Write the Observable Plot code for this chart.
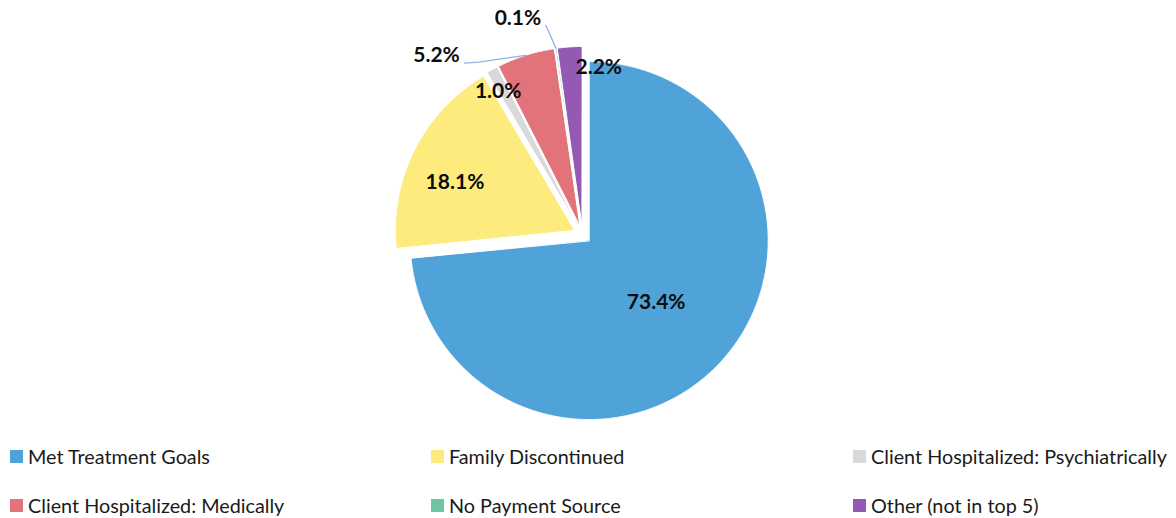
<!DOCTYPE html>
<html><head><meta charset="utf-8">
<script src="https://cdn.jsdelivr.net/npm/d3@7"></script>
<script src="https://cdn.jsdelivr.net/npm/@observablehq/plot@0.6"></script>
<style>
body{margin:0;background:#fff;font-family:Lato,"Open Sans",sans-serif;}
#wrap{position:relative;width:1176px;height:518px;overflow:hidden}
#legend{position:absolute;left:0;top:440px;width:1176px;height:78px;}
.item{position:absolute;display:flex;align-items:center;font-size:19.8px;color:#1a1a1a;white-space:nowrap;line-height:22px}
.sw{width:13px;height:13px;margin-right:5px;flex:none}
</style></head><body><div id="wrap"><div id="chart"></div><div id="legend"></div></div>
<script>
// ---- data ----
const categories = ["Met Treatment Goals","Family Discontinued","Client Hospitalized: Psychiatrically","Client Hospitalized: Medically","No Payment Source","Other (not in top 5)"];
const values = [73.4, 18.1, 1.0, 5.2, 0.1, 2.2];
const valueLabels = ["73.4%","18.1%","1.0%","5.2%","0.1%","2.2%"];
const colors = ["#4FA3D8","#FDEB7E","#D9D9D9","#E2737A","#6CC6A4","#9459B3"];

// ---- layout (not data) ----
const W = 1176, H = 440, CX = 582, CY = 234, R = 179, EXPLODE = 9;
// label placement: polar offset from each slice's apex (angle in degrees clockwise from top, radius fraction)
const labelAngle = [132.8, 292, 329.5, 320, 343, 6.1];
const labelRadius = [0.51, 0.72, 0.88, 1.245, 1.21, 0.89];
const hasLeader = [false, false, false, true, true, false];
const legendCols = [10, 431, 853];
const legendRows = [16, 65];

// ---- geometry ----
const total = d3.sum(values);
let acc = 0;
const slices = values.map((v, i) => {
  const a0 = acc / total * 2 * Math.PI; acc += v;
  const a1 = acc / total * 2 * Math.PI;
  const mid = (a0 + a1) / 2;
  return {i, cat: categories[i], a0, a1, mid, ax: EXPLODE * Math.sin(mid), ay: -EXPLODE * Math.cos(mid)};
});
const polyPts = [];
for (const s of slices) {
  polyPts.push({cat: s.cat, x: s.ax, y: s.ay});
  const n = Math.max(2, Math.ceil((s.a1 - s.a0) / 0.005));
  for (let k = 0; k <= n; k++) {
    const a = s.a0 + (s.a1 - s.a0) * k / n;
    polyPts.push({cat: s.cat, x: s.ax + R * Math.sin(a), y: s.ay - R * Math.cos(a)});
  }
}
const labelPts = slices.map(s => {
  const a = labelAngle[s.i] * Math.PI / 180, r = labelRadius[s.i] * R;
  return {text: valueLabels[s.i], x: s.ax + r * Math.sin(a), y: s.ay - r * Math.cos(a)};
});
const leaderPts = [];
slices.forEach(s => {
  if (!hasLeader[s.i]) return;
  const L = labelPts[s.i];
  const end = {x: s.ax + R * Math.sin(s.mid), y: s.ay - R * Math.cos(s.mid)};
  if (s.i === 3) {
    leaderPts.push({g: s.i, x: L.x + 28, y: L.y + 8}, {g: s.i, x: L.x + 42, y: L.y + 7}, {g: s.i, ...end});
  } else {
    leaderPts.push({g: s.i, x: L.x + 28, y: L.y + 7}, {g: s.i, ...end});
  }
});

const chart = Plot.plot({
  width: W, height: H, margin: 0,
  x: {domain: [-CX, W - CX], range: [0, W], axis: null},
  y: {domain: [-CY, H - CY], range: [0, H], axis: null},
  color: {domain: categories, range: colors},
  style: {fontFamily: "Lato, sans-serif", background: "white"},
  marks: [
    Plot.line(polyPts, {x: "x", y: "y", z: "cat", fill: "cat", stroke: "white", strokeWidth: 1, curve: "linear-closed"}),
    Plot.line(leaderPts, {x: "x", y: "y", z: "g", stroke: "#8DB4E2", strokeWidth: 1.3}),
    Plot.text(labelPts, {x: "x", y: "y", text: "text", fontSize: 21, fontWeight: "bold", fill: "#0d0d0d", fontFamily: "Lato, sans-serif"})
  ]
});
document.getElementById("chart").appendChild(chart);

const lg = document.getElementById("legend");
categories.forEach((c, i) => {
  const it = document.createElement("div");
  it.className = "item";
  it.style.left = legendCols[i % 3] + "px";
  it.style.top = legendRows[Math.floor(i / 3)] - 11 + "px";
  const sw = document.createElement("span");
  sw.className = "sw"; sw.style.background = colors[i];
  const tx = document.createElement("span"); tx.textContent = c;
  it.appendChild(sw); it.appendChild(tx); lg.appendChild(it);
});
</script></body></html>
